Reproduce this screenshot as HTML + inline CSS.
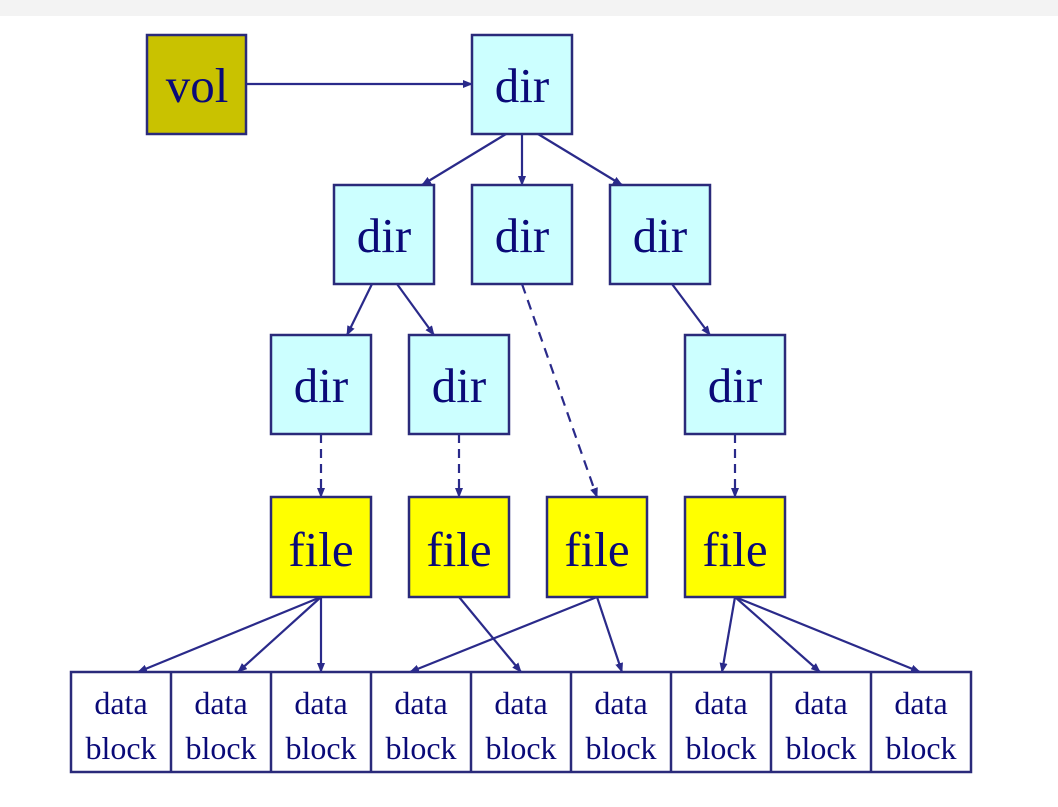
<!DOCTYPE html>
<html><head><style>
html,body{margin:0;padding:0;background:#fff;}
body{width:1058px;height:802px;overflow:hidden;position:relative;}
svg text{font-family:"Liberation Serif",serif;fill:#0a0a78;}
</style></head><body>
<svg width="1058" height="802" viewBox="0 0 1058 802" xmlns="http://www.w3.org/2000/svg">
<defs><marker id="a" markerWidth="10" markerHeight="8" refX="9" refY="4" orient="auto" markerUnits="userSpaceOnUse"><path d="M0,0 L10,4 L0,8 z" fill="#2a2a8a"/></marker></defs>
<rect x="0" y="0" width="1058" height="16" fill="#f3f3f3"/>
<g stroke="#2a2a7a" stroke-width="2.5">
<rect x="147" y="35" width="99" height="99" fill="#c9c200"/>
<rect x="472" y="35" width="100" height="99" fill="#ccffff"/>
<rect x="334" y="185" width="100" height="99" fill="#ccffff"/>
<rect x="472" y="185" width="100" height="99" fill="#ccffff"/>
<rect x="610" y="185" width="100" height="99" fill="#ccffff"/>
<rect x="271" y="335" width="100" height="99" fill="#ccffff"/>
<rect x="409" y="335" width="100" height="99" fill="#ccffff"/>
<rect x="685" y="335" width="100" height="99" fill="#ccffff"/>
<rect x="271" y="497" width="100" height="100" fill="#ffff00"/>
<rect x="409" y="497" width="100" height="100" fill="#ffff00"/>
<rect x="547" y="497" width="100" height="100" fill="#ffff00"/>
<rect x="685" y="497" width="100" height="100" fill="#ffff00"/>
<rect x="71" y="672" width="900" height="100" fill="#fff"/>
<path d="M171,672V772M271,672V772M371,672V772M471,672V772M571,672V772M671,672V772M771,672V772M871,672V772" fill="none"/>
</g>
<g stroke="#2a2a8a" stroke-width="2.2" fill="none" marker-end="url(#a)">
<line x1="246" y1="84" x2="472" y2="84"/>
<line x1="506" y1="134" x2="422" y2="185"/>
<line x1="522" y1="134" x2="522" y2="185"/>
<line x1="538" y1="134" x2="622" y2="185"/>
<line x1="372" y1="284" x2="347" y2="335"/>
<line x1="397" y1="284" x2="434" y2="335"/>
<line x1="672" y1="284" x2="710" y2="335"/>
<line x1="522" y1="284" x2="597" y2="497" stroke-dasharray="10,7"/>
<line x1="321" y1="434" x2="321" y2="497" stroke-dasharray="9,6"/>
<line x1="459" y1="434" x2="459" y2="497" stroke-dasharray="9,6"/>
<line x1="735" y1="434" x2="735" y2="497" stroke-dasharray="9,6"/>
<line x1="321" y1="597" x2="138" y2="672"/>
<line x1="321" y1="597" x2="238" y2="672"/>
<line x1="321" y1="597" x2="321" y2="672"/>
<line x1="459" y1="597" x2="521" y2="672"/>
<line x1="597" y1="597" x2="410" y2="672"/>
<line x1="597" y1="597" x2="622" y2="672"/>
<line x1="735" y1="597" x2="722" y2="672"/>
<line x1="735" y1="597" x2="820" y2="672"/>
<line x1="735" y1="597" x2="920" y2="672"/>
</g>
<g font-size="49" text-anchor="middle">
<text x="197" y="102">vol</text>
<text x="522" y="102">dir</text>
<text x="384" y="252">dir</text>
<text x="522" y="252">dir</text>
<text x="660" y="252">dir</text>
<text x="321" y="402">dir</text>
<text x="459" y="402">dir</text>
<text x="735" y="402">dir</text>
<text x="321" y="566">file</text>
<text x="459" y="566">file</text>
<text x="597" y="566">file</text>
<text x="735" y="566">file</text>
</g>
<g font-size="32" text-anchor="middle">
<text x="121" y="714">data</text><text x="121" y="759">block</text>
<text x="221" y="714">data</text><text x="221" y="759">block</text>
<text x="321" y="714">data</text><text x="321" y="759">block</text>
<text x="421" y="714">data</text><text x="421" y="759">block</text>
<text x="521" y="714">data</text><text x="521" y="759">block</text>
<text x="621" y="714">data</text><text x="621" y="759">block</text>
<text x="721" y="714">data</text><text x="721" y="759">block</text>
<text x="821" y="714">data</text><text x="821" y="759">block</text>
<text x="921" y="714">data</text><text x="921" y="759">block</text>
</g>
</svg>
</body></html>
